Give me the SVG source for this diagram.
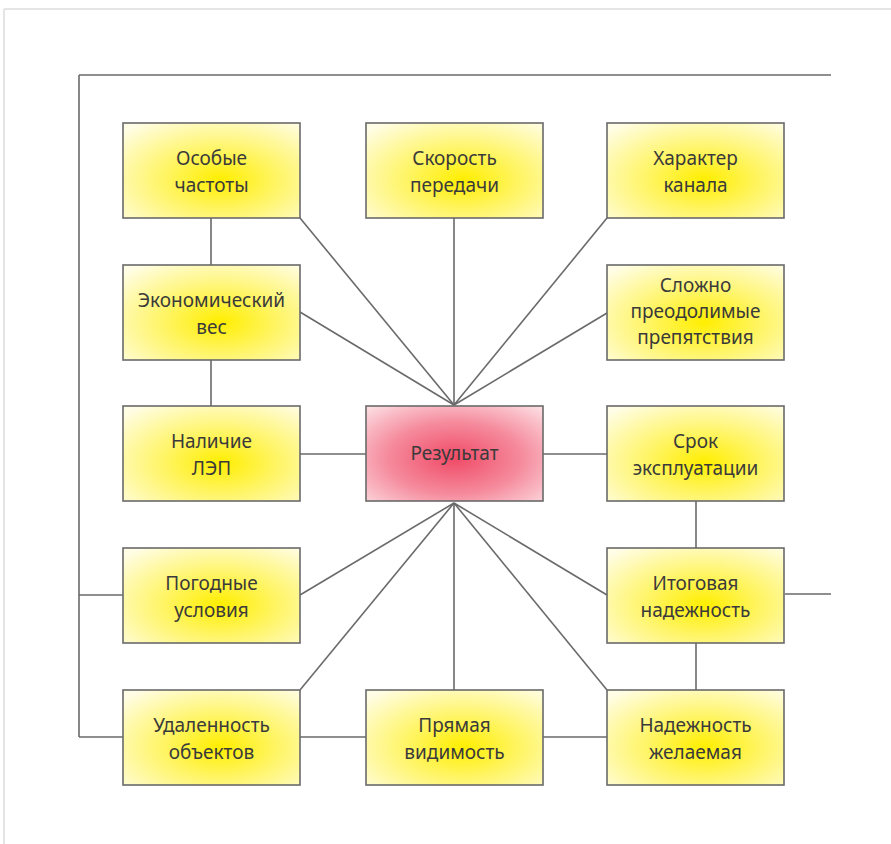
<svg xmlns="http://www.w3.org/2000/svg" width="891" height="844" viewBox="0 0 891 844">
<style>
.box{stroke:#6a6a6a;stroke-width:1.6}
.y{fill:url(#yg)}
.r{fill:url(#rg)}
.c line{stroke:#6a6a6a;stroke-width:1.6}
text{font-family:"Noto Sans","Open Sans",sans-serif;font-size:19px;fill:#3a3a3a;text-anchor:middle}
</style>
<defs>
<radialGradient id="yg" cx="0.55" cy="0.6" r="0.75">
<stop offset="0" stop-color="#ffee00"/>
<stop offset="0.45" stop-color="#fff56a"/>
<stop offset="1" stop-color="#fffde6"/>
</radialGradient>
<radialGradient id="rg" cx="0.5" cy="0.55" r="0.75">
<stop offset="0" stop-color="#f04a66"/>
<stop offset="0.5" stop-color="#f58a9c"/>
<stop offset="1" stop-color="#fde4e8"/>
</radialGradient>
</defs>
<rect width="891" height="844" fill="#fff"/>
<g id="page">
<line x1="4" y1="9" x2="891" y2="9" stroke="#dcdcdc" stroke-width="1.5"/>
<line x1="4" y1="9" x2="4" y2="844" stroke="#dcdcdc" stroke-width="1.5"/>
</g>
<g class="c" id="connectors">
<line x1="79" y1="75" x2="831" y2="75"/>
<line x1="79" y1="75" x2="79" y2="737"/>
<line x1="79" y1="595" x2="123" y2="595"/>
<line x1="79" y1="737" x2="123" y2="737"/>
<line x1="785" y1="594" x2="831" y2="594"/>
<line x1="211" y1="218" x2="211" y2="265"/>
<line x1="211" y1="360" x2="211" y2="406"/>
<line x1="696" y1="501" x2="696" y2="548"/>
<line x1="696" y1="643" x2="696" y2="690"/>
<line x1="300" y1="454" x2="366" y2="454"/>
<line x1="543" y1="454" x2="607" y2="454"/>
<line x1="300" y1="737" x2="366" y2="737"/>
<line x1="543" y1="737" x2="607" y2="737"/>
<line x1="454" y1="405" x2="300" y2="218"/>
<line x1="454" y1="405" x2="454" y2="218"/>
<line x1="454" y1="405" x2="607" y2="218"/>
<line x1="454" y1="405" x2="300" y2="312"/>
<line x1="454" y1="405" x2="607" y2="313"/>
<line x1="454" y1="503" x2="300" y2="595"/>
<line x1="454" y1="503" x2="300" y2="690"/>
<line x1="454" y1="503" x2="454" y2="690"/>
<line x1="454" y1="503" x2="607" y2="690"/>
<line x1="454" y1="503" x2="607" y2="595"/>
</g>
<g id="n1"><rect class="box y" x="123" y="123" width="177" height="95"/><text x="211.5" y="165">Особые</text><text x="211.5" y="192">частоты</text></g>
<g id="n2"><rect class="box y" x="366" y="123" width="177" height="95"/><text x="454.5" y="165">Скорость</text><text x="454.5" y="192">передачи</text></g>
<g id="n3"><rect class="box y" x="607" y="123" width="177" height="95"/><text x="695.5" y="165">Характер</text><text x="695.5" y="192">канала</text></g>
<g id="n4"><rect class="box y" x="123" y="265" width="177" height="95"/><text x="211.5" y="307">Экономический</text><text x="211.5" y="334">вес</text></g>
<g id="n5"><rect class="box y" x="607" y="265" width="177" height="95"/><text x="695.5" y="292">Сложно</text><text x="695.5" y="318">преодолимые</text><text x="695.5" y="344">препятствия</text></g>
<g id="n6"><rect class="box y" x="123" y="406" width="177" height="95"/><text x="211.5" y="448">Наличие</text><text x="211.5" y="475">ЛЭП</text></g>
<g id="n7"><rect class="box r" x="366" y="406" width="177" height="95"/><text x="454.5" y="460">Результат</text></g>
<g id="n8"><rect class="box y" x="607" y="406" width="177" height="95"/><text x="695.5" y="448">Срок</text><text x="695.5" y="475">эксплуатации</text></g>
<g id="n9"><rect class="box y" x="123" y="548" width="177" height="95"/><text x="211.5" y="590">Погодные</text><text x="211.5" y="617">условия</text></g>
<g id="n10"><rect class="box y" x="607" y="548" width="177" height="95"/><text x="695.5" y="590">Итоговая</text><text x="695.5" y="617">надежность</text></g>
<g id="n11"><rect class="box y" x="123" y="690" width="177" height="95"/><text x="211.5" y="732">Удаленность</text><text x="211.5" y="759">объектов</text></g>
<g id="n12"><rect class="box y" x="366" y="690" width="177" height="95"/><text x="454.5" y="732">Прямая</text><text x="454.5" y="759">видимость</text></g>
<g id="n13"><rect class="box y" x="607" y="690" width="177" height="95"/><text x="695.5" y="732">Надежность</text><text x="695.5" y="759">желаемая</text></g>
</svg>
